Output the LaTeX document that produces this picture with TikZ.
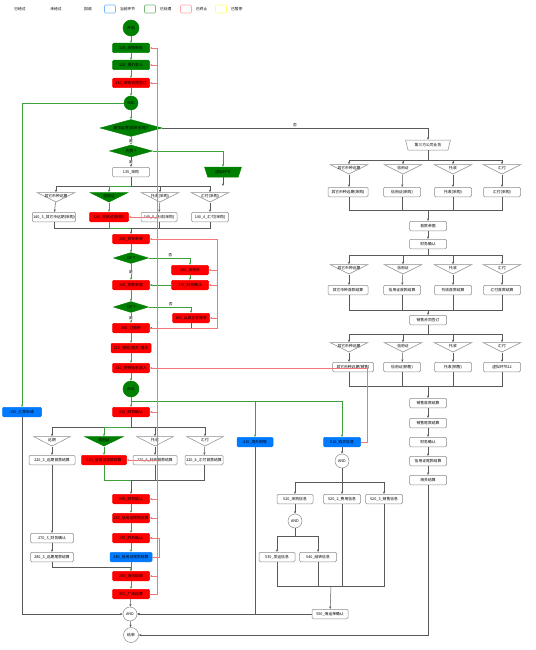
\documentclass[tikz,border=0pt]{standalone}
\usepackage{fontspec}
\setmainfont{Noto Sans CJK SC}
\usetikzlibrary{shapes.geometric,arrows.meta}
\definecolor{okgreen}{RGB}{0,128,0}
\definecolor{curblue}{RGB}{0,122,255}
\definecolor{linegreen}{RGB}{60,160,60}
\definecolor{backred}{RGB}{240,120,120}
\definecolor{waityellow}{RGB}{255,255,120}
\newcommand\tl[1]{\makebox[0pt]{\raisebox{-0.6pt}[0pt][0pt]{#1}}}
\tikzset{
  every node/.style={font=\fontsize{3.8}{4.6}\selectfont},
  box/.style={draw=black!45, fill=white, rounded corners=1.2pt, minimum width=37pt, minimum height=9.5pt, inner sep=0.8pt, line width=0.5pt},
  done/.style={box, draw=okgreen, fill=okgreen},
  halt/.style={box, draw=red, fill=red},
  cur/.style={box, draw=curblue, fill=curblue},
  tri/.style={isosceles triangle, isosceles triangle stretches, shape border rotate=270, draw=black!45, fill=white, inner sep=0pt, minimum width=38pt, minimum height=9.5pt, line width=0.5pt},
  tridone/.style={tri, draw=okgreen, fill=okgreen},
  virt/.style={trapezium, trapezium stretches=true, shape border rotate=180, trapezium left angle=65, trapezium right angle=65, draw=black!45, fill=white, inner sep=0pt, minimum width=45pt, minimum height=10pt, line width=0.5pt},
  virtdone/.style={virt, draw=okgreen, fill=okgreen},
  cond/.style={diamond, aspect=3.6, draw=okgreen, fill=okgreen, inner sep=0pt},
  ring/.style={circle, draw=black!45, fill=white, inner sep=0pt, minimum size=14pt, line width=0.5pt},
  ringdone/.style={ring, draw=okgreen, fill=okgreen},
  legbox/.style={draw, rounded corners=1pt, minimum width=11pt, minimum height=8pt, line width=0.7pt},
  go/.style={draw=black!65, line width=0.5pt, -{Stealth[length=2.6pt,width=2.2pt]}},
  link/.style={draw=black!65, line width=0.5pt},
  ok/.style={draw=linegreen, line width=0.5pt, -{Stealth[length=2.6pt,width=2.2pt]}},
  okline/.style={draw=linegreen, line width=0.5pt},
  back/.style={draw=backred, line width=0.6pt, -{Stealth[length=2.6pt,width=2.2pt]}},
  backline/.style={draw=backred, line width=0.6pt},
  lbl/.style={fill=white, inner sep=0.3pt},
}

\begin{document}
\begin{tikzpicture}[x=1pt,y=-1pt]
\useasboundingbox (0,0) rectangle (535,650);

% legend
\node (lgA) at (20,9) {已经过};
\node (lgB) at (56,9) {未经过};
\node (lgC) at (88,9) {回退};
\node[legbox, draw=curblue!55] (lgD) at (110,9) {};
\node[anchor=west] (lgDt) at (116.5,9) {当前环节};
\node[legbox, draw=okgreen!55] (lgE) at (150,9) {};
\node[anchor=west] (lgEt) at (156.5,9) {已处理};
\node[legbox, draw=red!35] (lgF) at (186,9) {};
\node[anchor=west] (lgFt) at (192.5,9) {已终止};
\node[legbox, draw=waityellow] (lgG) at (221,9) {};
\node[anchor=west] (lgGt) at (227.5,9) {已暂停};

% purchase side
\node[ringdone, minimum size=16pt] (start) at (131,28) {开始};
\node[done] (n110) at (131,48) {110\_采购审批};
\node[done] (n120) at (131,65) {120\_报价录入};
\node[halt] (n130) at (131,83) {130\_采购合同签订};
\node[ringdone] (and1) at (131,103) {AND};
\node[cond, minimum width=62pt, minimum height=17pt] (d1) at (131,128) {是否自营(国贸合同)?};
\node[cond, minimum width=43pt, minimum height=12pt] (d2) at (131,151) {内贸 ?};
\node[box] (n135) at (131,172) {135\_采购};
\node[virtdone, minimum width=37pt] (v1) at (223,172) {虚拟环节};

\node[tri] (t1a) at (56,197) {\tl{其它币种远期}};
\node[tridone] (t1b) at (109,197) {\tl{信用证}};
\node[tri] (t1c) at (160,197) {\tl{托收(采购)}};
\node[tri] (t1d) at (210,197) {\tl{汇付(采购)}};
\node[box, minimum width=43pt] (p1a) at (54,217) {140\_3\_其它币远期(采购)};
\node[halt, minimum width=39pt] (p1b) at (109,217) {140\_信用证(采购)};
\node[box, minimum width=36pt] (p1c) at (159,217) {140\_5\_托收(采购)};
\node[box] (p1d) at (210,217) {140\_4\_汇付(采购)};

\node[halt] (n150) at (131,239) {150\_到单审单};
\node[cond, minimum width=35pt, minimum height=11pt] (d3) at (131,258) {CIF ?};
\node[halt] (n160) at (190,270) {160\_投保单};
\node[halt] (n165) at (131,285) {165\_货款单据};
\node[halt] (n170) at (190,285) {170\_财务确认};
\node[cond, minimum width=35pt, minimum height=11pt] (d4) at (131,307) {CIF ?};
\node[halt] (n180) at (191,318) {180\_出具正式保单};
\node[halt] (n200) at (131,328) {200\_订舱单};
\node[halt, minimum width=40pt] (n210) at (131,348) {210\_报检/报关/通关};
\node[halt] (n220) at (131,368) {220\_货物信息录入};
\node[ringdone, minimum size=16pt] (and2) at (131,389) {AND};

% settlement side
\node[cur, minimum width=39pt] (n190) at (22,412) {190\_汇票申请};
\node[halt] (nfc) at (131,412) {210\_财务确认};
\node[cur, minimum width=36pt] (n410) at (255,442) {410\_境外销售};
\node[cur] (n510) at (342,442) {510\_购买信息};

\node[tri, minimum width=37pt] (t2a) at (52,441) {\tl{远期}};
\node[tridone, minimum width=39pt] (t2b) at (104,441) {\tl{信用证}};
\node[tri, minimum width=37pt] (t2c) at (155,441) {\tl{托收}};
\node[tri, minimum width=37pt] (t2d) at (205,441) {\tl{汇付}};
\node[box, minimum width=46pt] (q2a) at (52,460) {220\_3\_远期首款结算};
\node[halt, minimum width=45pt] (q2b) at (104,460) {220\_信用证首款结算};
\node[box, minimum width=44pt] (q2c) at (155,460) {220\_6\_托收首款结算};
\node[box, minimum width=38pt] (q2d) at (204,460) {220\_4\_汇付首款结算};

\node[halt] (n230) at (131,499) {230\_财务确认};
\node[halt] (n240) at (131,518) {240\_信用证尾款结算};
\node[halt] (n270) at (131,538) {270\_财务确认};
\node[cur, minimum width=42pt] (n280) at (131,557) {280\_信用证尾款结算};
\node[halt] (n290) at (131,576) {290\_海关结算};
\node[halt] (n300) at (131,594) {300\_厂商结算};
\node[box, minimum width=43pt] (n270c) at (52,538) {270\_3\_财务确认};
\node[box, minimum width=43pt] (n280c) at (52,557) {280\_3\_远期尾款结算};
\node[ring] (andE) at (130,614) {AND};
\node[ring, minimum size=15pt] (endN) at (131,635) {结束};

% third party column
\node[virt] (tp) at (428,145) {第三方公司业务};
\node[tri] (r1a) at (349,169) {\tl{其它币种远期}};
\node[tri] (r1b) at (403,169) {\tl{信用证}};
\node[tri] (r1c) at (453,169) {\tl{托收}};
\node[tri] (r1d) at (502,169) {\tl{汇付}};
\node[box, minimum width=40pt] (r1A) at (348,192) {其它币种远期(采购)};
\node[box] (r1B) at (402,192) {信用证(采购)};
\node[box] (r1C) at (453,192) {托收(采购)};
\node[box] (r1D) at (502,192) {汇付(采购)};
\node[box] (sk) at (428,226) {首款单据};
\node[box] (cw) at (428,244) {财务确认};
\node[tri] (r2a) at (349,269) {\tl{其它币种远期}};
\node[tri] (r2b) at (403,269) {\tl{信用证}};
\node[tri] (r2c) at (453,269) {\tl{托收}};
\node[tri] (r2d) at (502,269) {\tl{汇付}};
\node[box, minimum width=40pt] (r2A) at (348,290) {其它币种首款结算};
\node[box] (r2B) at (402,290) {信用证首款结算};
\node[box] (r2C) at (453,290) {托收首款结算};
\node[box] (r2D) at (502,290) {汇付首款结算};
\node[box] (xs) at (428,320) {销售合同签订};
\node[tri] (r3a) at (349,347) {\tl{其它币种远期}};
\node[tri] (r3b) at (403,347) {\tl{信用证}};
\node[tri] (r3c) at (453,347) {\tl{托收}};
\node[tri] (r3d) at (502,347) {\tl{汇付}};
\node[box, minimum width=41pt] (r3A) at (353,367) {其它币种远期(销售)};
\node[box] (r3B) at (402,367) {信用证(销售)};
\node[box] (r3C) at (453,367) {托收(销售)};
\node[box] (r3D) at (502,367) {虚拟环节22};
\node[box] (s1) at (428,403) {销售首款结算};
\node[box] (s2) at (428,423) {销售尾款结算};
\node[box] (s3) at (428,442) {财务确认};
\node[box] (s4) at (428,461) {信用证尾款结算};
\node[box] (s5) at (428,480) {海关结算};

% shipping column
\node[ring] (and3) at (342,461) {AND};
\node[box, minimum width=36pt] (m1) at (295,499) {520\_采购信息};
\node[box] (m2) at (342,499) {520\_2\_费用信息};
\node[box] (m3) at (384,499) {520\_3\_销售信息};
\node[ring] (and4) at (295,521) {AND};
\node[box, minimum width=36pt] (m4) at (277,557) {530\_发运信息};
\node[box] (m5) at (318,557) {540\_结转信息};
\node[box, minimum width=36pt] (m6) at (330,614) {550\_海运单确认};

% junctions
\coordinate (bar1) at (131,186);
\coordinate (bar2) at (131,228);
\coordinate (f2) at (131,401);
\coordinate (bar3) at (131,427);
\coordinate (bar4) at (131,480);
\coordinate (j5) at (131,567);
\coordinate (rb1) at (428,160);
\coordinate (rb2) at (428,210);
\coordinate (rb3) at (428,255);
\coordinate (rb4) at (428,310);
\coordinate (rb5) at (428,334);
\coordinate (rb6) at (428,386);
\coordinate (mb1) at (342,482);
\coordinate (mb2) at (295,536);
\coordinate (mb3) at (331,586);
\coordinate (rx) at (157,0);
\coordinate (rx2) at (159.5,0);
\coordinate (ry) at (217,0);
\coordinate (rz) at (367,0);

% connectors, not passed
\draw[go] (d1) -| node[above, inner sep=0.8pt, pos=0.25] {否} (tp);
\draw[go] (d2) -- node[lbl] {是} (n135);
\draw[link] (n135) -- (bar1);
\draw[go] (v1) -- (v1 |- bar1);
\draw[go] (bar1) -| (t1a);
\draw[go] (bar1) -| (t1c);
\draw[go] (bar1) -| (t1d);
\draw[go] (t1a) -- (p1a);
\draw[go] (t1c) -- (p1c);
\draw[go] (t1d) -- (p1d);
\draw[link] (p1a) |- (bar2);
\draw[link] (p1c) |- (bar2);
\draw[link] (p1d) |- (bar2);
\draw[go] (bar2) -- (n150);
\draw[go] (n180) |- (n200);
\draw[link] (nfc) -- (bar3);
\draw[go] (bar3) -| (t2a);
\draw[go] (bar3) -| (t2c);
\draw[go] (bar3) -| (t2d);
\draw[go] (t2a) -- (q2a);
\draw[go] (t2c) -- (q2c);
\draw[go] (t2d) -- (q2d);
\draw[go] (q2a) -- (n270c);
\draw[go] (n270c) -- (n280c);
\draw[go] (n280c) |- (j5) -- (n290);
\draw[link] (q2c) |- (bar4);
\draw[link] (q2d) |- (bar4);
\draw[go] (bar4) -- (n230);
\draw[go] (n300) -- (andE);
\draw[go] (andE) -- (endN);
\draw[go] (n190) |- (andE);
\draw[go] (n410) |- (andE);
\draw[go] (m6) -- (andE);
\draw[go] (s5) |- (endN);

% third party connectors
\draw[link] (tp) -- (rb1);
\draw[go] (rb1) -| (r1a);
\draw[go] (rb1) -| (r1b);
\draw[go] (rb1) -| (r1c);
\draw[go] (rb1) -| (r1d);
\draw[go] (r1a) -- (r1a |- r1A.north);
\draw[go] (r1b) -- (r1B);
\draw[go] (r1c) -- (r1C);
\draw[go] (r1d) -- (r1D);
\draw[link] (r1A.south -| r1a) |- (rb2);
\draw[link] (r1B) |- (rb2);
\draw[link] (r1C) |- (rb2);
\draw[link] (r1D) |- (rb2);
\draw[go] (rb2) -- (sk);
\draw[go] (sk) -- (cw);
\draw[link] (cw) -- (rb3);
\draw[go] (rb3) -| (r2a);
\draw[go] (rb3) -| (r2b);
\draw[go] (rb3) -| (r2c);
\draw[go] (rb3) -| (r2d);
\draw[go] (r2a) -- (r2a |- r2A.north);
\draw[go] (r2b) -- (r2B);
\draw[go] (r2c) -- (r2C);
\draw[go] (r2d) -- (r2D);
\draw[link] (r2A.south -| r2a) |- (rb4);
\draw[link] (r2B) |- (rb4);
\draw[link] (r2C) |- (rb4);
\draw[link] (r2D) |- (rb4);
\draw[go] (rb4) -- (xs);
\draw[link] (xs) -- (rb5);
\draw[go] (rb5) -| (r3a);
\draw[go] (rb5) -| (r3b);
\draw[go] (rb5) -| (r3c);
\draw[go] (rb5) -| (r3d);
\draw[go] (r3a) -- (r3a |- r3A.north);
\draw[go] (r3b) -- (r3B);
\draw[go] (r3c) -- (r3C);
\draw[go] (r3d) -- (r3D);
\draw[link] (r3A.south -| r3a) |- (rb6);
\draw[link] (r3B) |- (rb6);
\draw[link] (r3C) |- (rb6);
\draw[link] (r3D) |- (rb6);
\draw[go] (rb6) -- (s1);
\draw[go] (s1) -- (s2);
\draw[go] (s2) -- (s3);
\draw[go] (s3) -- (s4);
\draw[go] (s4) -- (s5);

% shipping connectors
\draw[go] (n510) -- (and3);
\draw[link] (and3) -- (mb1);
\draw[go] (mb1) -| (m1);
\draw[go] (mb1) -- (m2);
\draw[go] (mb1) -| (m3);
\draw[go] (m1) -- (and4);
\draw[link] (and4) -- (mb2);
\draw[go] (mb2) -| (m4);
\draw[go] (mb2) -| (m5);
\draw[link] (m4) |- (mb3);
\draw[link] (m5) |- (mb3);
\draw[link] (m2) |- (mb3);
\draw[link] (m3) |- (mb3);
\draw[go] (mb3) -- (m6);

% passed path
\draw[ok] (start) -- (n110);
\draw[ok] (n110) -- (n120);
\draw[ok] (n120) -- (n130);
\draw[ok] (n130) -- (and1);
\draw[ok] (and1) -- (d1);
\draw[ok] (d1) -- node[lbl] {是} (d2);
\draw[ok] (and1) -| (n190);
\draw[ok] (d2) -| (v1);
\draw[ok] (bar1) -| (t1b);
\draw[ok] (t1b) -- (p1b);
\draw[okline] (p1b) |- (bar2);
\draw[ok] (n150) -- (d3);
\draw[ok] (d3) -| node[above, inner sep=0.8pt, pos=0.26] {否} (n160);
\draw[ok] (d3) -- node[lbl] {是} (n165);
\draw[ok] (n160) -- (n170);
\draw[ok] (n170) -- (n165);
\draw[ok] (n165) -- (d4);
\draw[ok] (d4) -| node[above, inner sep=0.8pt, pos=0.26] {否} (n180);
\draw[ok] (d4) -- node[lbl] {是} (n200);
\draw[ok] (n200) -- (n210);
\draw[ok] (n210) -- (n220);
\draw[ok] (n220) -- (and2);
\draw[okline] (and2) -- (f2);
\draw[ok] (f2) -- (nfc);
\draw[ok] (f2) -| (n410);
\draw[ok] (f2) -| (n510);
\draw[ok] (bar3) -| (t2b);
\draw[ok] (t2b) -- (q2b);
\draw[okline] (q2b) |- (bar4);
\draw[ok] (n230) -- (n240);
\draw[ok] (n240) -- (n270);
\draw[ok] (n270) -- (n280);
\draw[ok] (n280) -- (n290);
\draw[ok] (n290) -- (n300);

% roll back
\draw[back] (n300) -| (rx |- n300) |- (n110);
\draw[back] (rx |- n120) -- (n120);
\draw[back] (rx |- n130) -- (n130);
\draw[back] (rx |- p1b) -- (p1b);
\draw[back] (rx |- nfc) -- (nfc);
\draw[back] (rx |- q2b) -- (q2b);
\draw[back] (rx |- n230) -- (n230);
\draw[back] (rx |- n240) -- (n240);
\draw[back] (rx |- n270) -- (n270);
\draw[back] (rx |- n290) -- (n290);
\draw[back] (n280) -| (rx2 |- n270) -- (n270);
\draw[back] (n200) -| (ry |- n150) -- (n150);
\draw[back] (ry |- n160) -- (n160);
\draw[back] (ry |- n170) -- (n170);
\draw[back] (ry |- n180) -- (n180);
\draw[back] (n510) -| (rz |- n220) -- (n220);

\end{tikzpicture}
\end{document}
